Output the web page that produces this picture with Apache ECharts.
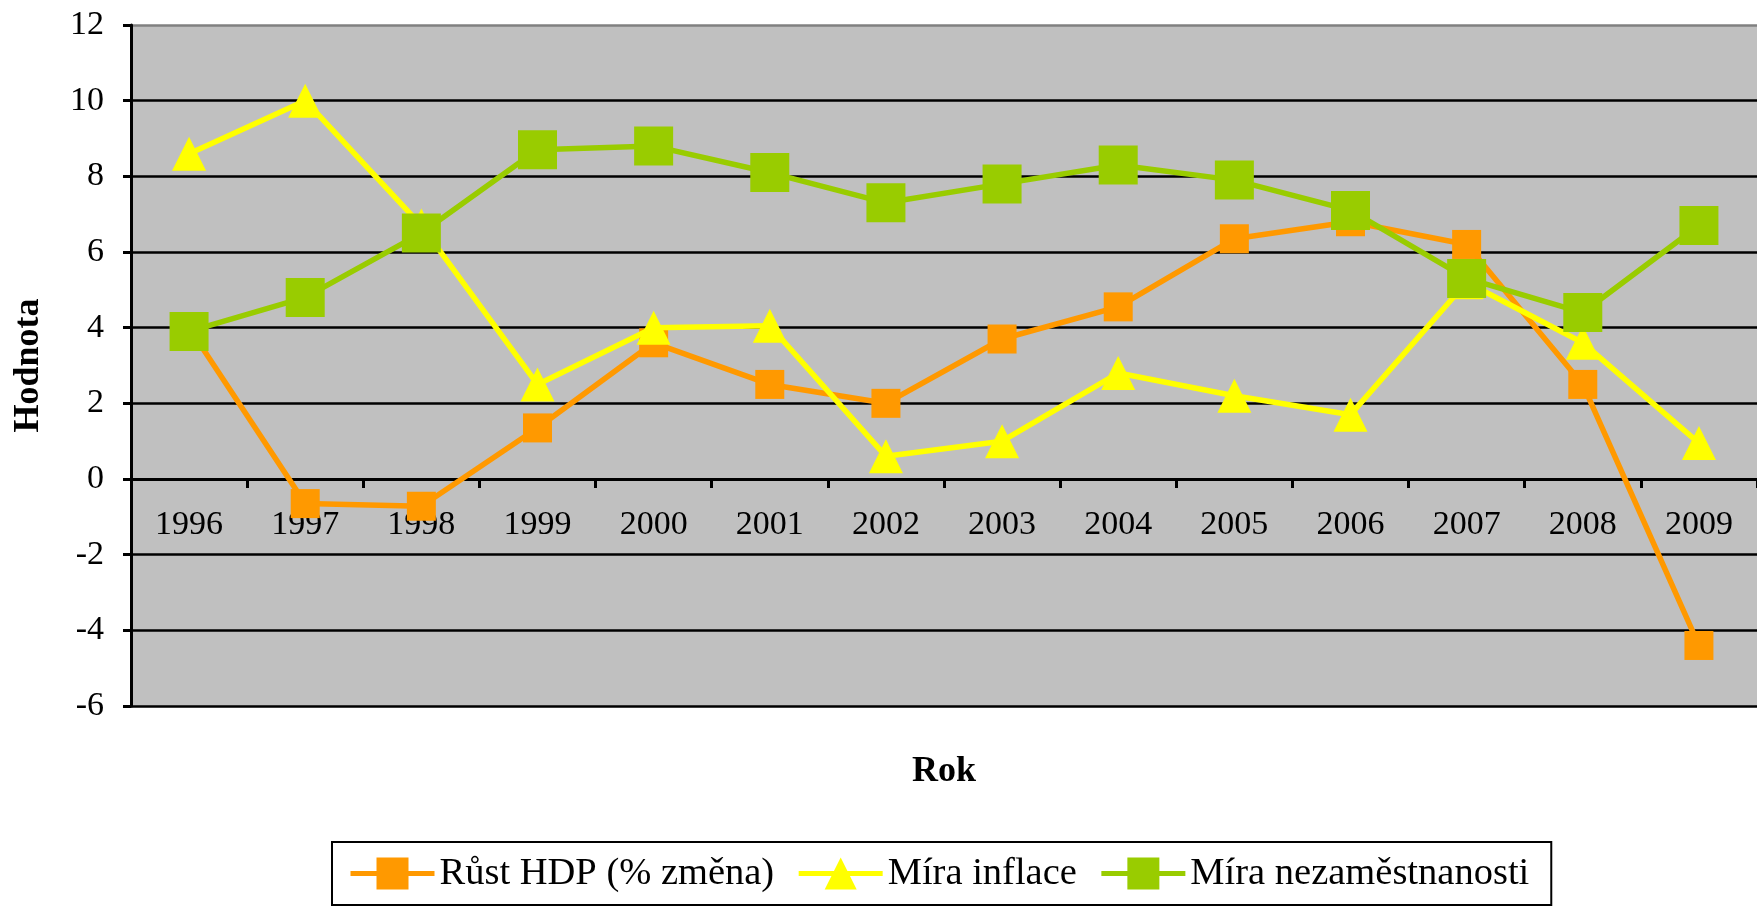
<!DOCTYPE html>
<html>
<head>
<meta charset="utf-8">
<script src="https://cdn.jsdelivr.net/npm/echarts@6/dist/echarts.min.js"></script>
<style>
html,body{margin:0;padding:0;background:#fff;}
#chart{width:1757px;height:908px;}
</style>
</head>
<body>
<div id="chart"></div>
<script>
const categories = ['1996','1997','1998','1999','2000','2001','2002','2003','2004','2005','2006','2007','2008','2009'];
const gdpGrowth = [4.0, -0.65, -0.72, 1.35, 3.6, 2.5, 2.0, 3.7, 4.55, 6.35, 6.8, 6.2, 2.5, -4.4];
const inflation = [8.6, 10.0, 6.7, 2.5, 4.0, 4.05, 0.6, 1.0, 2.8, 2.2, 1.7, 5.2, 3.6, 0.95];
const unemployment = [3.9, 4.8, 6.5, 8.7, 8.8, 8.1, 7.3, 7.8, 8.3, 7.9, 7.1, 5.3, 4.4, 6.7];
const seriesNames = ['Růst HDP (% změna)', 'Míra inflace', 'Míra nezaměstnanosti'];
const yTicks = {min: -6, max: 12, interval: 2};

const FONT = '"Liberation Serif", "Times New Roman", serif';
const W = 1757, H = 908;
const GRID = {left: 131, right: 0, top: 25, bottom: 202};
const plotH = H - GRID.top - GRID.bottom;
// distance from plot bottom (min) up to the zero line, so the category axis sits on zero
const zeroOffset = -plotH * (0 - yTicks.min) / (yTicks.max - yTicks.min);

const chart = echarts.init(document.getElementById('chart'));
const gridColors = [];
for (let v = yTicks.min; v <= yTicks.max; v += yTicks.interval) gridColors.push(v === yTicks.max ? '#808080' : '#000000');

chart.setOption({
  animation: false,
  backgroundColor: '#ffffff',
  grid: {
    left: GRID.left, right: GRID.right, top: GRID.top, bottom: GRID.bottom,
    containLabel: false, outerBoundsMode: 'none',
    show: true, backgroundColor: '#C0C0C0', borderWidth: 0
  },
  legend: {
    data: seriesNames,
    left: 332, top: 842,
    orient: 'horizontal',
    borderColor: '#000', borderWidth: 2,
    padding: [12, 22, 12, 16],
    itemGap: 22, itemWidth: 84, itemHeight: 40,
    lineStyle: {width: 5},
    textStyle: {fontFamily: FONT, fontSize: 38.5, color: '#000'}
  },
  xAxis: {
    type: 'category',
    data: categories,
    boundaryGap: true,
    offset: zeroOffset,
    name: 'Rok',
    nameLocation: 'middle',
    nameGap: 275,
    nameTextStyle: {fontFamily: FONT, fontSize: 36, fontWeight: 'bold', color: '#000'},
    axisLine: {show: true, onZero: false, lineStyle: {color: '#000', width: 3}},
    axisTick: {show: true, length: 9, lineStyle: {color: '#000', width: 3}},
    axisLabel: {fontFamily: FONT, fontSize: 34, color: '#000', margin: 29},
    splitLine: {show: false}
  },
  yAxis: {
    type: 'value',
    min: yTicks.min, max: yTicks.max, interval: yTicks.interval,
    name: 'Hodnota',
    nameLocation: 'middle',
    nameGap: 84,
    nameTextStyle: {fontFamily: FONT, fontSize: 36, fontWeight: 'bold', color: '#000'},
    axisLine: {show: true, lineStyle: {color: '#000', width: 3}},
    axisTick: {show: true, length: 8, lineStyle: {color: '#000', width: 3}},
    axisLabel: {fontFamily: FONT, fontSize: 34, color: '#000', margin: 27},
    splitLine: {show: true, lineStyle: {color: gridColors, width: 2.5}}
  },
  series: [
    {
      name: seriesNames[0], type: 'line', data: gdpGrowth,
      symbol: 'rect', symbolSize: 29, showAllSymbol: true,
      lineStyle: {color: '#FF9900', width: 5.5},
      itemStyle: {color: '#FF9900', borderWidth: 0},
      z: 3
    },
    {
      name: seriesNames[1], type: 'line', data: inflation,
      symbol: 'triangle', symbolSize: 34, showAllSymbol: true,
      lineStyle: {color: '#FFFF00', width: 5.5},
      itemStyle: {color: '#FFFF00', borderWidth: 0},
      z: 4
    },
    {
      name: seriesNames[2], type: 'line', data: unemployment,
      symbol: 'rect', symbolSize: 39, showAllSymbol: true,
      lineStyle: {color: '#99CC00', width: 5.5},
      itemStyle: {color: '#99CC00', borderWidth: 0},
      z: 5
    }
  ]
});
</script>
</body>
</html>
